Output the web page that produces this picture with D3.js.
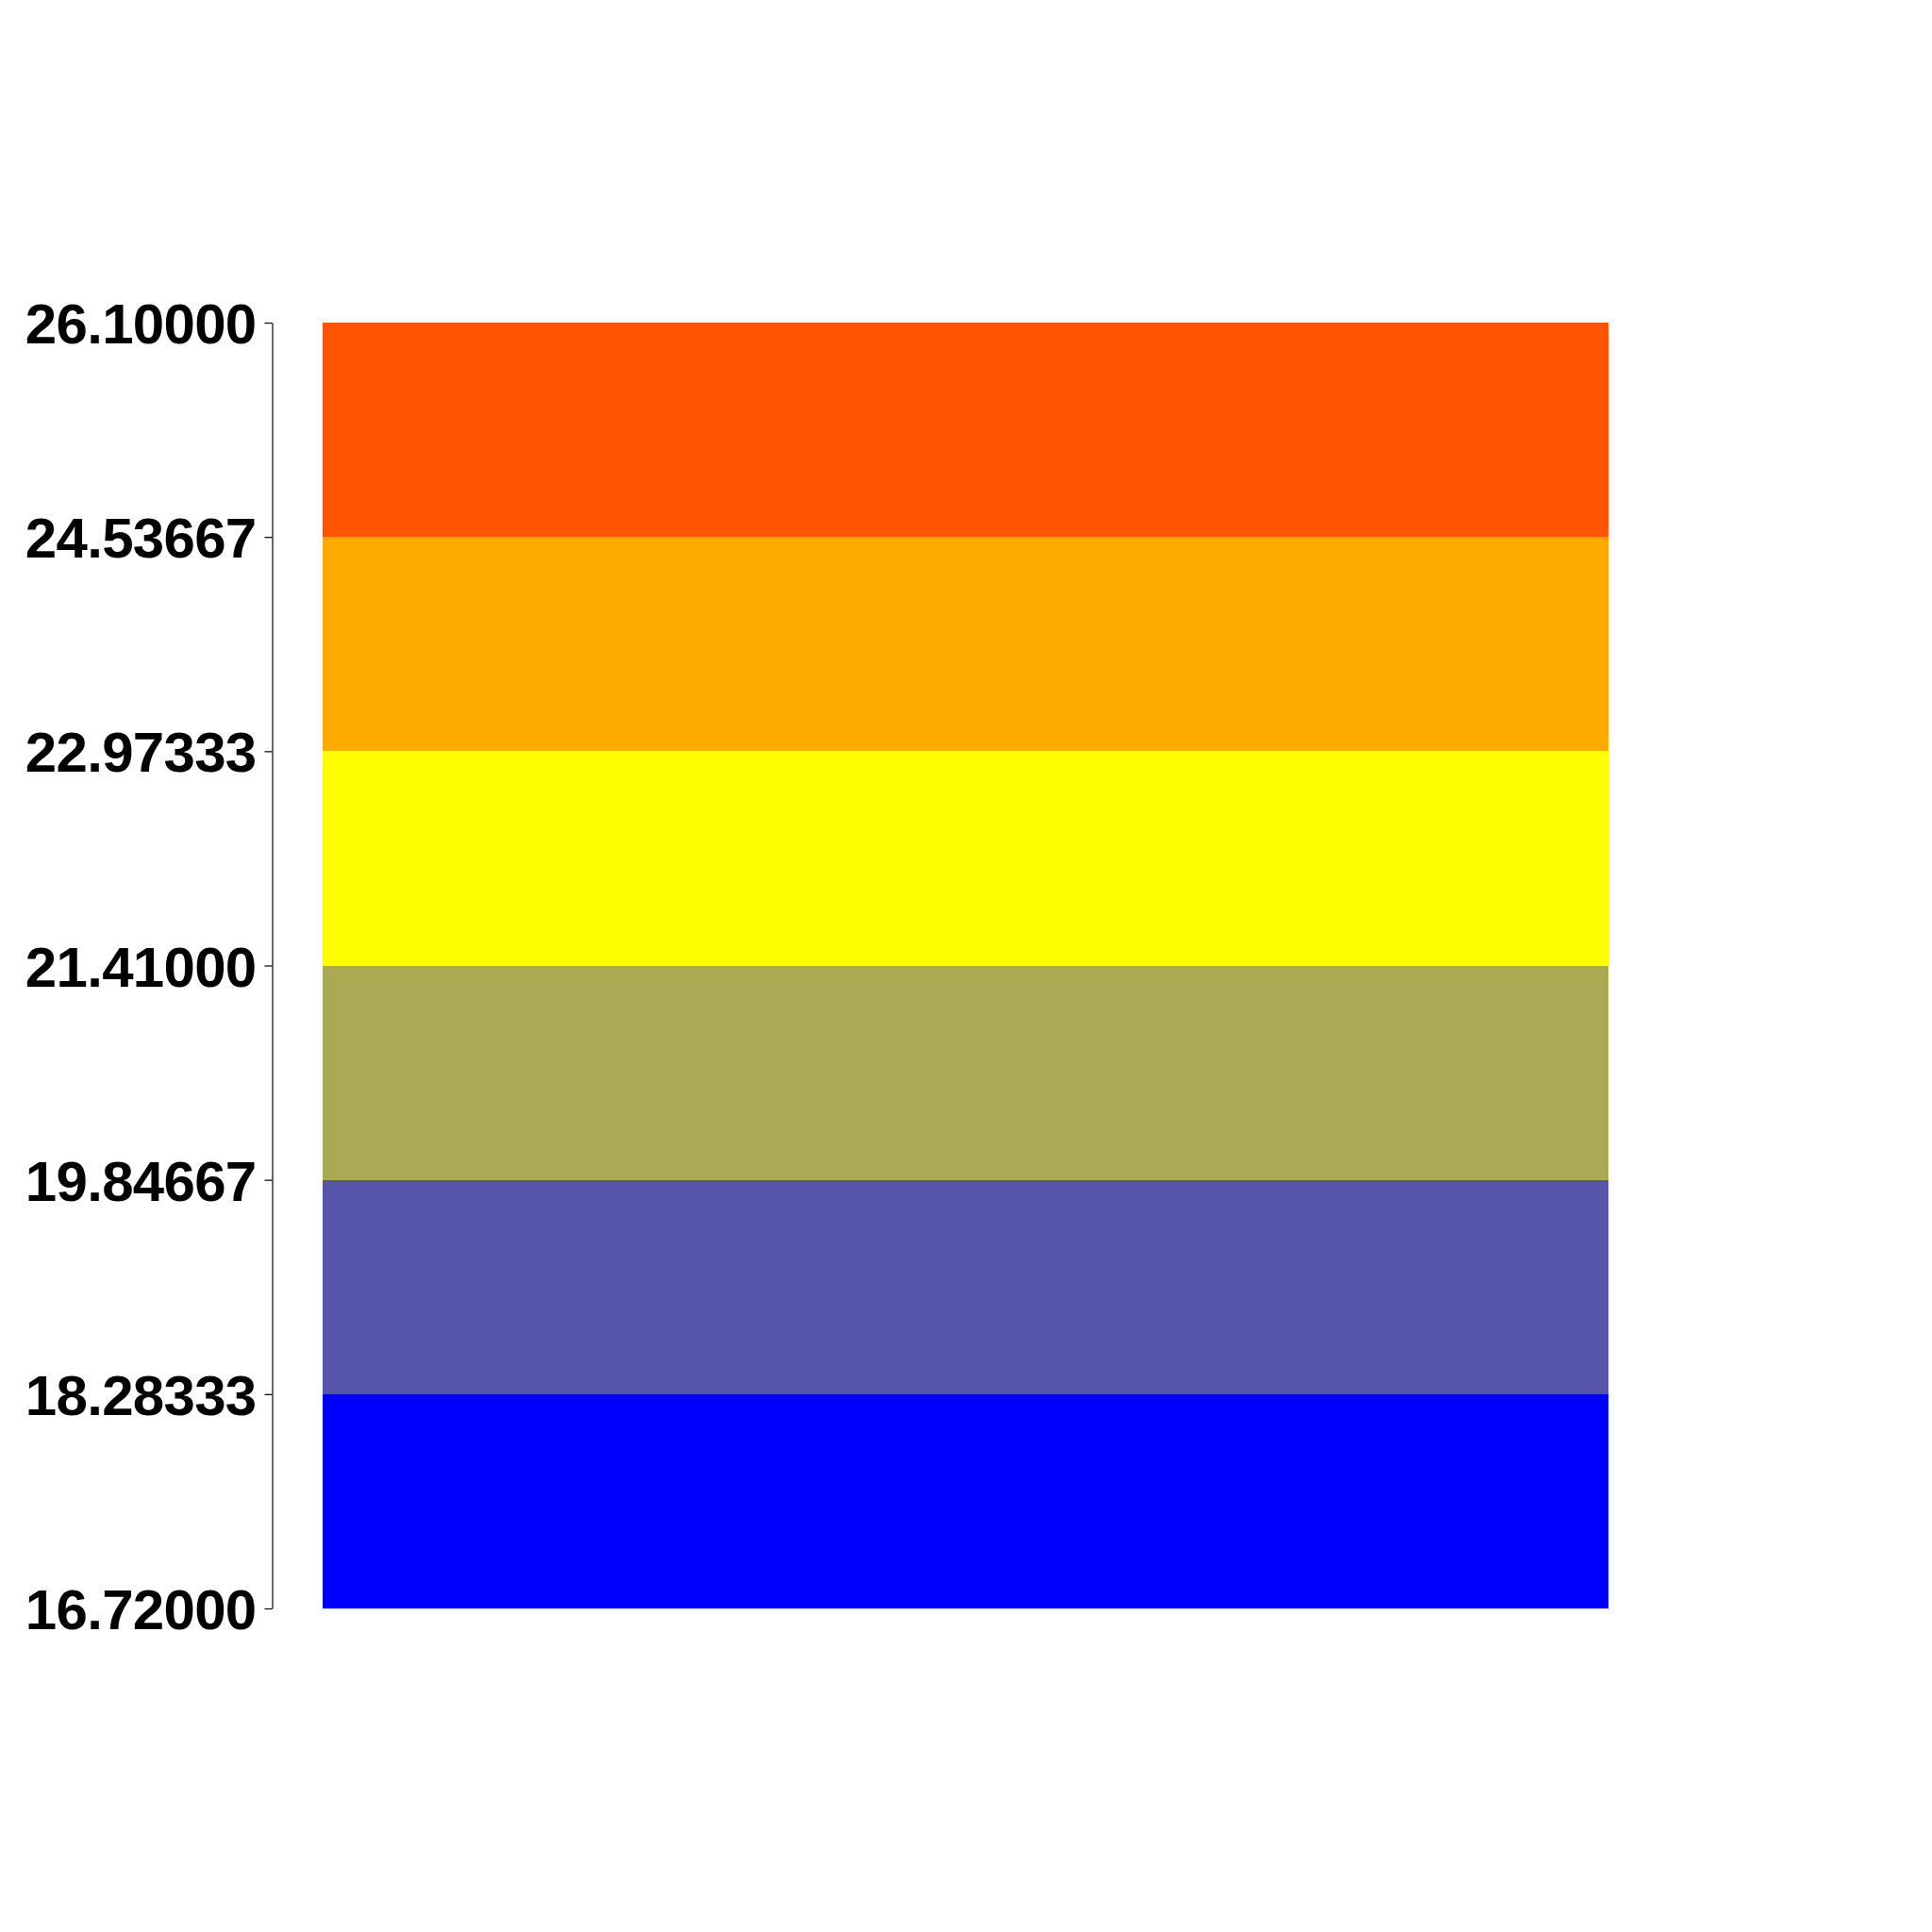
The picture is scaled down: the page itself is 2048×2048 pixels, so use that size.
<!DOCTYPE html>
<html><head><meta charset="utf-8">
<script src="https://cdn.jsdelivr.net/npm/d3@7"></script>
<style>html,body{margin:0;padding:0;background:#fff;}</style>
</head><body>
<script>
const breaks = [16.72, 18.28333, 19.84667, 21.41, 22.97333, 24.53667, 26.1];
const tickLabels = ["16.72000","18.28333","19.84667","21.41000","22.97333","24.53667","26.10000"];
const colors = ["#0000FF","#5555AA","#AAAA55","#FFFF00","#FFAA00","#FF5500"];

const W = 2048, H = 2048;
const svg = d3.select("body").append("svg").attr("width", W).attr("height", H);
const y = d3.scaleLinear().domain([breaks[0], breaks[breaks.length-1]]).range([1705, 342]);
const x = d3.scaleLinear().domain([0,1]).range([342, 1705]);

const bands = colors.map((c,i)=>({lo:breaks[i], hi:breaks[i+1], c}));
svg.selectAll("rect.band").data(bands).enter().append("rect")
  .attr("x", x(0)).attr("width", x(1)-x(0))
  .attr("y", d=>y(d.hi)).attr("height", d=>y(d.lo)-y(d.hi))
  .attr("fill", d=>d.c).attr("shape-rendering","crispEdges");

const axis = d3.axisLeft(y).tickValues(breaks).tickSize(8).tickSizeOuter(0)
  .tickFormat((d,i)=>tickLabels[i]).tickPadding(9);
const g = svg.append("g").attr("transform","translate(288.5,0)").call(axis);
g.select(".domain").attr("stroke","#000").attr("stroke-width",1.2);
g.selectAll(".tick line").attr("stroke","#000").attr("stroke-width",1.2);
g.selectAll(".tick text").attr("font-family","Liberation Sans, Arial, sans-serif")
  .attr("font-weight","bold").attr("font-size",60).attr("letter-spacing","-0.7px")
  .attr("fill","#000").attr("dy","0.36em");
</script>
</body></html>
